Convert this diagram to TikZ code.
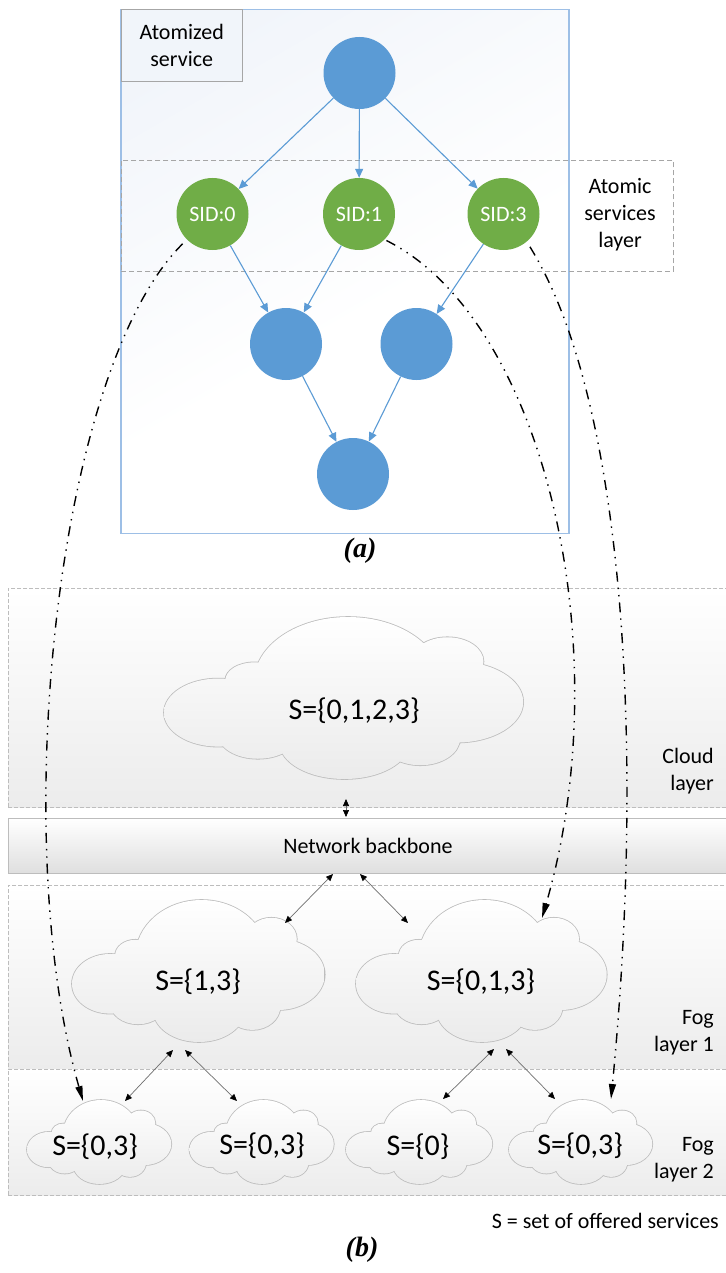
\documentclass[tikz,border=0pt]{standalone}
\usepackage{fontspec}
\setmainfont{Carlito}
\newfontfamily\figcapfont{Liberation Serif}
\usetikzlibrary{arrows.meta}

\definecolor{nodeblue}{HTML}{5B9BD5}
\definecolor{nodegreen}{HTML}{70AD47}
\definecolor{frameblue}{HTML}{9DBFE6}
\definecolor{labelgray}{HTML}{A6A6A6}
\definecolor{layergray}{HTML}{BDBDBD}
\definecolor{layerfill}{HTML}{ECECEC}
\definecolor{cloudfill}{HTML}{EBEBEB}
\definecolor{bluetint}{HTML}{E8EEF7}
\definecolor{linkgray}{HTML}{6E6E6E}

% pale blue wash that fades out towards the lower part of the frame
\pgfdeclareverticalshading{atomfade}{100bp}{color(0bp)=(white); color(45bp)=(white); color(100bp)=(bluetint)}

% lobes of a cloud outline, in a box from (-1,-1) to (1,1)
\newcommand{\cloudlobes}{%
  (-0.70,-0.18) ellipse [x radius=0.30, y radius=0.42]
  (-0.50,0.22)  ellipse [x radius=0.16, y radius=0.22]
  (0.02,0.20)   ellipse [x radius=0.52, y radius=0.80]
  (0.57,0.45)   ellipse [x radius=0.20, y radius=0.30]
  (0.62,-0.05)  ellipse [x radius=0.37, y radius=0.50]
  (0.42,-0.50)  ellipse [x radius=0.22, y radius=0.33]
  (0.00,-0.55)  ellipse [x radius=0.36, y radius=0.45]
  (-0.48,-0.45) ellipse [x radius=0.22, y radius=0.30]
  (0,0)         ellipse [x radius=0.70, y radius=0.60]}

% #1 name, #2 x, #3 y, #4 half width, #5 half height
\newcommand{\puffcloud}[5]{%
  \begin{scope}[shift={(#2,#3)}, x=#4pt, y=#5pt]
    \path[draw=layergray, line width=1.6pt] \cloudlobes;
    \shade[top color=white, bottom color=cloudfill] \cloudlobes;
    \node[inner sep=0pt, minimum width=2*#4pt, minimum height=2*#5pt] (#1) at (0,0) {};
  \end{scope}}

\begin{document}
\begin{tikzpicture}[x=1pt,y=-1pt,
  txt/.style={font=\fontsize{22}{27}\selectfont, inner sep=0pt},
  bigtxt/.style={font=\fontsize{30}{36}\selectfont, inner sep=0pt},
  svc/.style={circle, fill=nodeblue, minimum size=72pt, inner sep=0pt},
  sid/.style={svc, fill=nodegreen, text=white, font=\fontsize{22}{27}\selectfont},
  flow/.style={draw=nodeblue, line width=1.1pt, -{Triangle[length=9pt,width=8pt]}},
  layerbox/.style={draw=layergray, dash pattern=on 4pt off 2pt, line width=0.8pt,
    top color=white, bottom color=layerfill, anchor=north west, inner sep=0pt,
    minimum width=719pt},
  link/.style={draw=linkgray, line width=0.7pt,
    {Triangle[length=7pt,width=6pt,color=black]}-{Triangle[length=7pt,width=6pt,color=black]}},
  mapping/.style={draw=black, line width=1.4pt,
    dash pattern=on 10pt off 6pt on 1.4pt off 6pt on 1.4pt off 6pt,
    -{Triangle[length=15pt,width=7pt]}},
  caption/.style={font=\figcapfont\bfseries\itshape\fontsize{28}{32}\selectfont, inner sep=0pt},
]
\useasboundingbox (0,0) rectangle (725,1273);

% ---------------- (a) atomized service ----------------
\path[shading=atomfade, shading angle=30, shade] (121,9.5) rectangle (569,533.5);
\draw[frameblue, line width=1.2pt] (121,9.5) rectangle (569,533.5);
\node[draw=labelgray, fill=bluetint!60, minimum width=121pt, minimum height=72pt,
      anchor=north west, inner sep=0pt, txt, align=center] (tag) at (121,9.5) {Atomized\\service};
\node[draw=labelgray, dash pattern=on 5pt off 3pt, line width=0.8pt, minimum width=552pt,
      minimum height=111pt, anchor=north west, inner sep=0pt] (atomlayer) at (121,160) {};
\node[txt, align=center] (atomtxt) at (620,215) {Atomic\\services\\layer};

\node[svc] (root) at (359.5,73) {};
\node[sid] (s0) at (212.5,214) {SID:0};
\node[sid] (s1) at (359,214) {SID:1};
\node[sid] (s3) at (503.5,214) {SID:3};
\node[svc] (m1) at (286,344) {};
\node[svc] (m2) at (416.5,344) {};
\node[svc] (sink) at (353,474) {};

\draw[flow] (root) -- (s0);
\draw[flow] (root) -- (s1);
\draw[flow] (root) -- (s3);
\draw[flow] (s0) -- (m1);
\draw[flow] (s1) -- (m1);
\draw[flow] (s3) -- (m2);
\draw[flow] (m1) -- (sink);
\draw[flow] (m2) -- (sink);

\node[caption] (capa) at (360,551) {(a)};

% ---------------- (b) cloud / fog hierarchy ----------------
\node[layerbox, minimum height=219pt] (cloudlayer) at (8,588) {};
\node[layerbox, solid, minimum height=55pt, bottom color=layerfill!88!gray, txt] (backbone) at (8,818) {Network backbone};
\node[layerbox, minimum height=184pt] (fog1) at (8,885) {};
\node[layerbox, minimum height=126pt] (fog2) at (8,1069) {};

\node[txt, align=right, anchor=east] (cloudlbl) at (714,771) {Cloud\\layer};
\node[txt, align=right, anchor=east] (fog1lbl) at (714,1032.5) {Fog\\layer 1};
\node[txt, align=right, anchor=east] (fog2lbl) at (714,1159.5) {Fog\\layer 2};

% clouds with their service sets
\puffcloud{core}{344.5}{698}{180.5}{81}
\node[bigtxt] (coretxt) at (354,711) {S=\{0,1,2,3\}};
\puffcloud{fa}{199}{971}{127}{71}
\node[bigtxt] (fatxt) at (198,982) {S=\{1,3\}};
\puffcloud{fb}{482}{971}{126}{71}
\node[bigtxt] (fbtxt) at (481,982) {S=\{0,1,3\}};
\puffcloud{ea}{99.5}{1142}{72.5}{42}
\node[bigtxt] (eatxt) at (95,1147) {S=\{0,3\}};
\puffcloud{eb}{262}{1142}{72.5}{42}
\node[bigtxt] (ebtxt) at (262,1146) {S=\{0,3\}};
\puffcloud{ec}{419.5}{1142}{73.5}{42}
\node[bigtxt] (ectxt) at (418,1147) {S=\{0\}};
\puffcloud{ed}{581}{1142}{72}{42}
\node[bigtxt] (edtxt) at (580,1146) {S=\{0,3\}};

\node[txt, anchor=base east] (legend) at (719,1228) {S = set of offered services};
\node[caption] (capb) at (362,1250) {(b)};

% link end points
\coordinate (k0a) at (346,799);   \coordinate (k0b) at (346,817);
\coordinate (k1a) at (333,874);   \coordinate (k1b) at (285,923);
\coordinate (k2a) at (360,874);   \coordinate (k2b) at (408,923);
\coordinate (k3a) at (173,1050);  \coordinate (k3b) at (125,1101);
\coordinate (k4a) at (185,1050);  \coordinate (k4b) at (237,1101);
\coordinate (k5a) at (494,1049);  \coordinate (k5b) at (443,1099);
\coordinate (k6a) at (506,1049);  \coordinate (k6b) at (555,1099);

\draw[link] (k0a) -- (k0b);
\draw[link] (k1a) -- (k1b);
\draw[link] (k2a) -- (k2b);
\draw[link] (k3a) -- (k3b);
\draw[link] (k4a) -- (k4b);
\draw[link] (k5a) -- (k5b);
\draw[link] (k6a) -- (k6b);

% placement of atomic services onto fog nodes
\coordinate (d0) at (83,1101);
\coordinate (d1) at (542,918);
\coordinate (d3) at (611,1099);
\draw[mapping, shorten <=6pt] (s0.225) .. controls (55,370) and (8,840) .. (d0);
\draw[mapping, shorten <=2pt] (s1.-45) .. controls (545,320) and (620,650) .. (d1);
\draw[mapping, shorten <=6pt] (s3.-50) .. controls (625,400) and (645,750) .. (d3);
\end{tikzpicture}
\end{document}
